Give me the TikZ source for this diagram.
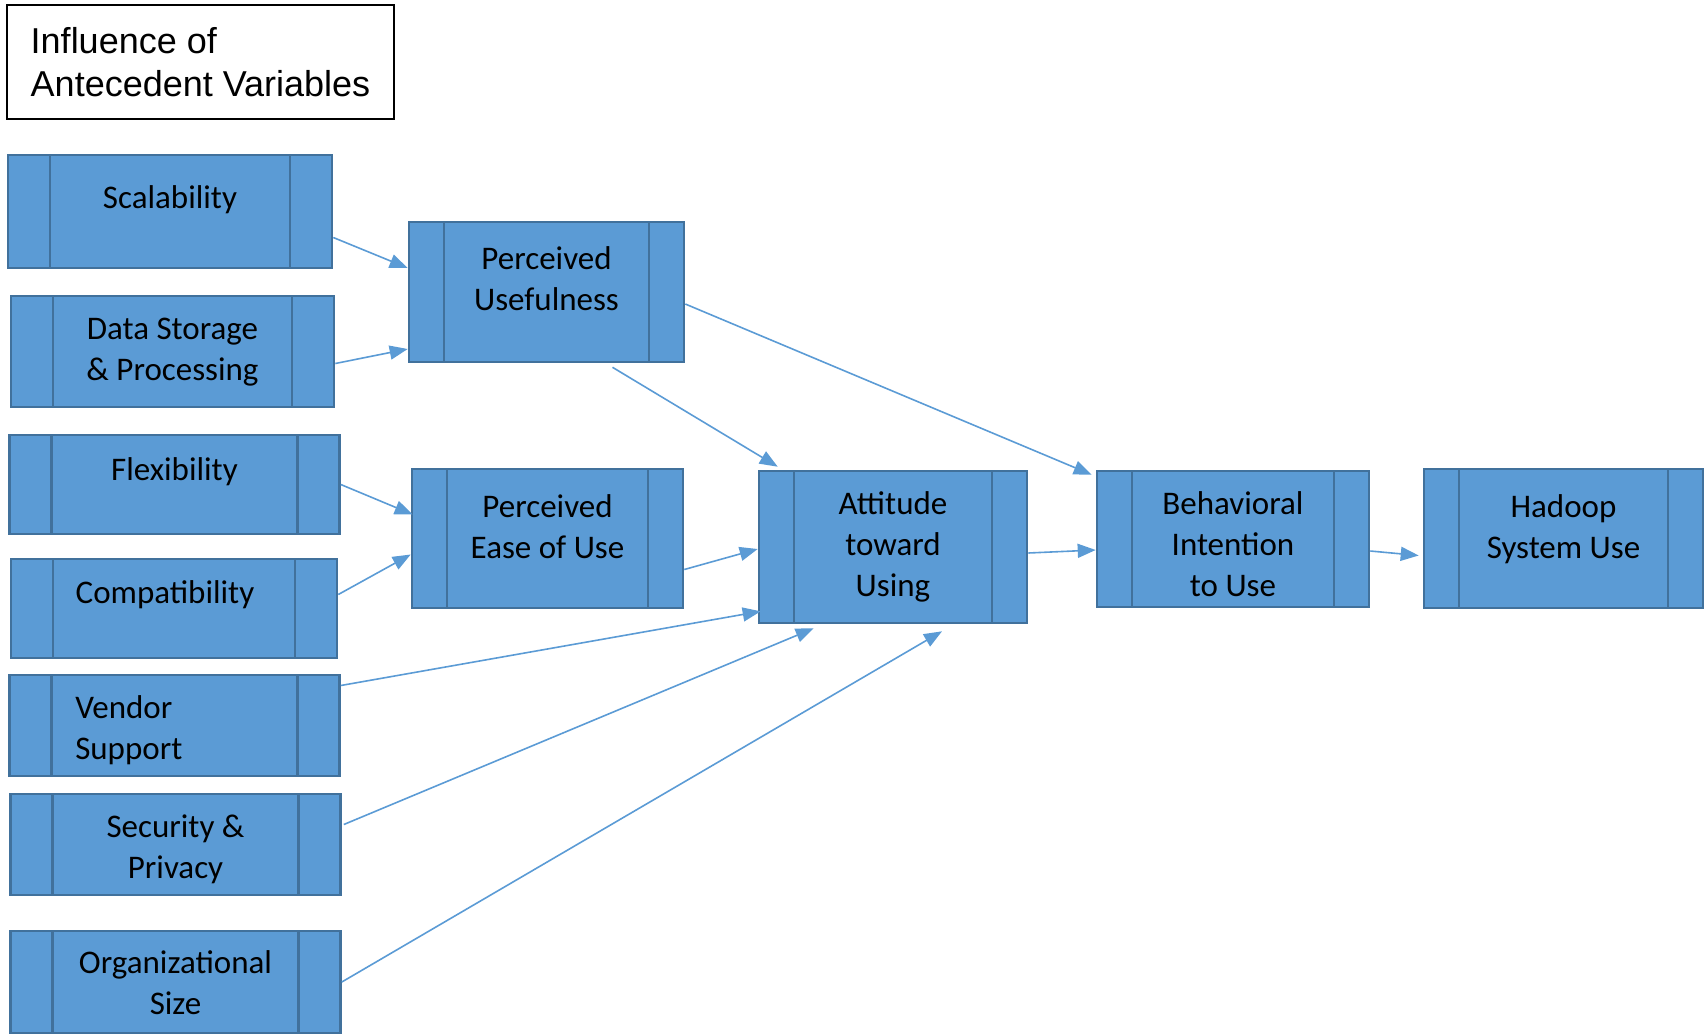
\documentclass[tikz,border=0pt]{standalone}
\usepackage{fontspec}
\usepackage{tikz}
\usetikzlibrary{calc}
\usetikzlibrary{arrows.meta}
\newfontfamily\carlito{Carlito}
\newfontfamily\arialfont{Liberation Sans}
\definecolor{boxblue}{HTML}{5B9BD5}
\definecolor{edgeblue}{HTML}{41719C}

\begin{document}
\begin{tikzpicture}[x=0.5pt, y=-0.5pt]
    \tikzstyle heading=[draw=black, line width=0.8pt, align=left, inner sep=0pt, minimum width=193.5pt, minimum height=57pt, font=\arialfont\fontsize{18}{21.5}\selectfont]
    \tikzstyle antecedent=[draw=edgeblue, fill=boxblue, line width=1.3pt, minimum width=165pt, path picture={\draw[edgeblue, line width=1.1pt] ([xshift=21pt]path picture bounding box.north west) -- ([xshift=21pt]path picture bounding box.south west) ([xshift=-21pt]path picture bounding box.north east) -- ([xshift=-21pt]path picture bounding box.south east);}]
    \tikzstyle construct=[draw=edgeblue, fill=boxblue, line width=1.3pt, minimum width=136pt, path picture={\draw[edgeblue, line width=1.1pt] ([xshift=17.5pt]path picture bounding box.north west) -- ([xshift=17.5pt]path picture bounding box.south west) ([xshift=-17.5pt]path picture bounding box.north east) -- ([xshift=-17.5pt]path picture bounding box.south east);}]
    \tikzstyle vartext=[anchor=base, align=center, font=\carlito\fontsize{16.5}{20.5}\selectfont]
    \tikzstyle influence=[draw=boxblue, line width=0.8pt, -{Triangle[length=9pt, width=7pt]}]
    \useasboundingbox (0,0) rectangle (1708,1035);
    \node[heading] (title) at (200.5,62) {Influence of\\Antecedent Variables};
    \node[antecedent, minimum width=162pt, minimum height=56.5pt] (scal) at (170,211.5) {};
    \node[vartext] (scal-t) at ($(scal.north)+(0,55)$) {Scalability};
    \node[antecedent, minimum width=161.5pt, minimum height=55.5pt] (data) at (172.5,351.5) {};
    \node[vartext] (data-t) at ($(data.north)+(0,86)$) {Data Storage\\\& Processing};
    \node[antecedent, minimum height=49.5pt] (flex) at (174.5,484.5) {};
    \node[vartext] (flex-t) at ($(flex.north)+(0,47)$) {Flexibility};
    \node[antecedent, minimum width=163pt, minimum height=49.5pt] (compat) at (174,608.5) {};
    \node[vartext] (compat-t) at ($(compat.north)+(-9,46)$) {Compatibility};
    \node[antecedent, minimum height=50.5pt] (vendor) at (174.5,725.5) {};
    \node[vartext, anchor=base west, align=left] (vendor-t) at ($(vendor.north west)+(60,86)$) {Vendor\\Support};
    \node[antecedent, minimum height=50.5pt] (secur) at (175.5,844.5) {};
    \node[vartext] (secur-t) at ($(secur.north)+(0,86)$) {Security \&\\Privacy};
    \node[antecedent, minimum height=51pt] (orgsize) at (175.5,982) {};
    \node[vartext] (orgsize-t) at ($(orgsize.north)+(0,85)$) {Organizational\\Size};
    \node[construct, minimum width=137.5pt, minimum height=70pt] (pu) at (546.5,292) {};
    \node[vartext] (pu-t) at ($(pu.north)+(0,90)$) {Perceived\\Usefulness};
    \node[construct, minimum width=135.5pt, minimum height=69.5pt] (peou) at (547.5,538.5) {};
    \node[vartext] (peou-t) at ($(peou.north)+(0,91)$) {Perceived\\Ease of Use};
    \node[construct, minimum width=134pt, minimum height=76pt] (att) at (893,547) {};
    \node[vartext] (att-t) at ($(att.north)+(0,127)$) {Attitude\\toward\\Using};
    \node[construct, minimum height=68pt] (bi) at (1233,539) {};
    \node[vartext] (bi-t) at ($(bi.north)+(0,127)$) {Behavioral\\Intention\\to Use};
    \node[construct, minimum width=139.5pt, minimum height=69.5pt] (use) at (1563.5,538.5) {};
    \node[vartext] (use-t) at ($(use.north)+(0,91)$) {Hadoop\\System Use};
    \draw[influence] ($(scal.east)+(0,26)$) -- ($(pu.west)+(0,-24)$);
    \draw[influence] ($(data.east)+(0,12)$) -- ($(pu.west)+(0,57)$);
    \draw[influence] ($(pu.south)+(66,4)$) -- ($(att.north west)+(20,-3)$);
    \draw[influence] ($(pu.east)+(0,12)$) -- ($(bi.north west)+(-4,5)$);
    \draw[influence] (flex.east) -- ($(peou.west)+(2,-24)$);
    \draw[influence] ($(compat.east)+(0,-14)$) -- ($(peou.west)+(0,16)$);
    \draw[influence] ($(peou.east)+(0,31)$) -- ($(att.west)+(0,2)$);
    \draw[influence] ($(vendor.east)+(0,-40)$) -- ($(att.south west)+(3,-13)$);
    \draw[influence] ($(secur.east)+(2,-20)$) -- ($(att.south west)+(56,4)$);
    \draw[influence] (orgsize.east) -- ($(att.south)+(49,7)$);
    \draw[influence] ($(att.east)+(0,6)$) -- ($(bi.west)+(0,11)$);
    \draw[influence] ($(bi.east)+(0,12)$) -- ($(use.west)+(-4,17)$);
\end{tikzpicture}
\end{document}
